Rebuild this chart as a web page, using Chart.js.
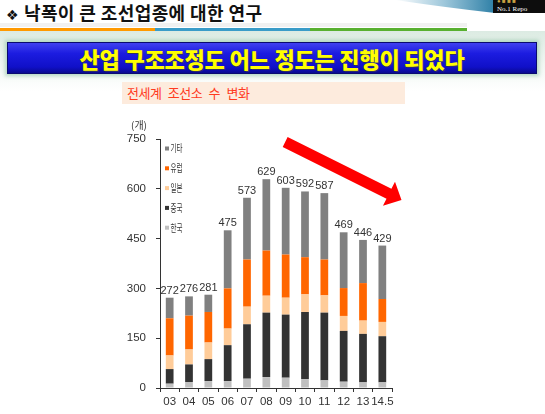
<!DOCTYPE html>
<html>
<head>
<meta charset="utf-8">
<script src="https://cdn.jsdelivr.net/npm/chart.js@4"></script>
<style>
  html, body { margin: 0; padding: 0; background: #fff; }
  body { width: 545px; height: 414px; position: relative; overflow: hidden;
         font-family: "Noto Sans CJK KR", "Noto Sans", sans-serif; }
  .abs { position: absolute; }
  #topTitle { left: 6px; top: -1px; font-size: 18px; font-weight: 700; color: #111; white-space: nowrap; letter-spacing: 0.4px; }
  #topTitle .mark { font-family: "DejaVu Sans"; font-size: 14px; margin-right: 5px; }
  #glow { left: 0; top: 31px; width: 545px; height: 60px;
          background: linear-gradient(#dcebe3, #f3f8f5 60%, #fff); }
  #banner { left: 7px; top: 42px; width: 530px; height: 32px;
            background: linear-gradient(#4040f0, #1c1ce0 35%, #1010c8 80%, #0a0a90);
            box-shadow: 0 0 4px 2px rgba(150, 200, 170, 0.7); border: 1px solid #0a0a70; box-sizing: border-box;
            color: #ffff00; font-size: 22px; font-weight: 900; text-align: center; line-height: 30px;
            text-shadow: 1px 1px 0 #303060; letter-spacing: -0.2px; }
  #subTitle { left: 122px; top: 82px; width: 283px; height: 22px; background: #fdebdd;
              color: #ff3b1f; font-size: 13px; line-height: 22px; padding-left: 5px; box-sizing: border-box;
              letter-spacing: -0.5px; word-spacing: 4px; }
  #chartCanvas { left: 0; top: 0; }
</style>
</head>
<body>
<svg class="abs" style="left:0;top:0" width="545" height="40">
  <defs>
    <linearGradient id="swoosh" x1="0" x2="1" y1="0" y2="0">
      <stop offset="0" stop-color="#ffffff"/>
      <stop offset="0.5" stop-color="#9cc6da"/>
      <stop offset="1" stop-color="#2d7fa6"/>
    </linearGradient>
  </defs>
  <rect x="0" y="0" width="545" height="27" fill="#fff"/>
  <rect x="0" y="23" width="467" height="4" fill="#f1f1f1"/>
  <path d="M395 0 L495 0 L495 13 Q450 8 395 0 Z" fill="url(#swoosh)"/>
  <rect x="493" y="0" width="52" height="13" fill="#0d0d0d"/>
  <text x="497" y="3" font-family="Liberation Serif" font-size="6" fill="#c8a040">● ■ ■ ■</text>
  <text x="497" y="11" font-family="Liberation Serif" font-size="7" fill="#fff">No.1 Repo</text>
  <rect x="0" y="28" width="155" height="3" fill="#ff9900"/>
  <rect x="155" y="28" width="155" height="3" fill="#3a9cc8"/>
  <rect x="310" y="28" width="157" height="3" fill="#58b030"/>
</svg>
<div id="glow" class="abs"></div>
<div id="topTitle" class="abs"><span class="mark">❖</span>낙폭이 큰 조선업종에 대한 연구</div>
<div id="banner" class="abs">산업 구조조정도 어느 정도는 진행이 되었다</div>
<div id="subTitle" class="abs">전세계 조선소 수 변화</div>
<canvas id="chartCanvas" class="abs" width="545" height="414" style="width:545px;height:414px"></canvas>
<svg class="abs" style="left:0;top:0" width="545" height="414">
  <g transform="translate(401.5,200) rotate(26.5)">
    <polygon points="-130,-5.5 -14,-5.5 -14,-13.5 0,0 -14,13.5 -14,5.5 -130,5.5" fill="#ff0000"/>
  </g>
</svg>
<script>
// 연도 (x축)
const years = ['03', '04', '05', '06', '07', '08', '09', '10', '11', '12', '13', '14.5'];

// 국가별 조선소 수 (아래에서 위로 쌓임)
const korea  = [13, 18, 21, 21, 28, 33, 31, 27, 23, 19, 17, 17];
const china  = [44, 53, 66, 108, 164, 194, 190, 202, 204, 153, 146, 139];
const japan  = [41, 45, 50, 50, 53, 51, 51, 53, 52, 45, 40, 43];
const europe = [112, 102, 92, 121, 142, 136, 130, 112, 108, 84, 113, 69];
const others = [62, 58, 52, 175, 186, 215, 201, 198, 200, 168, 130, 161];

// y축 눈금
const yTicks = [0, 150, 300, 450, 600, 750];

const seriesNames  = ['한국', '중국', '일본', '유럽', '기타'];
const seriesColors = ['#c0c0c0', '#333333', '#ffcc99', '#ff6600', '#808080'];
const seriesData   = [korea, china, japan, europe, others];

const AXIS_COLOR = '#333333';
const TEXT_COLOR = '#333333';

// 막대 위 합계 표시
const totalLabels = {
    id: 'totalLabels',
    afterDatasetsDraw(chart) {
        const ctx = chart.ctx;
        const topMeta = chart.getDatasetMeta(chart.data.datasets.length - 1);
        ctx.save();
        ctx.font = '11px "Liberation Sans", Arial, sans-serif';
        ctx.fillStyle = TEXT_COLOR;
        ctx.textAlign = 'center';
        ctx.textBaseline = 'alphabetic';
        years.forEach((y, i) => {
            const total = seriesData.reduce((s, arr) => s + arr[i], 0);
            const bar = topMeta.data[i];
            ctx.fillText(String(total), bar.x, bar.y - 4);
        });
        ctx.restore();
    }
};

// 차트 안쪽 왼쪽 위 범례 (역순) + 단위
const innerLegend = {
    id: 'innerLegend',
    afterDraw(chart) {
        const ctx = chart.ctx;
        const sets = chart.data.datasets.slice().reverse();
        ctx.save();
        sets.forEach((ds, k) => {
            const cy = 148.5 + k * 19.8;
            ctx.fillStyle = ds.backgroundColor;
            ctx.fillRect(165, cy - 2, 4, 4);
            ctx.save();
            ctx.translate(170.5, cy);
            ctx.scale(0.62, 1);
            ctx.font = '10.5px "Noto Sans CJK KR", sans-serif';
            ctx.fillStyle = TEXT_COLOR;
            ctx.textBaseline = 'middle';
            ctx.fillText(ds.label, 0, 0);
            ctx.restore();
        });
        ctx.font = '10px "Noto Sans CJK KR", sans-serif';
        ctx.fillStyle = TEXT_COLOR;
        ctx.textAlign = 'center';
        ctx.textBaseline = 'middle';
        ctx.fillText('(개)', 139, 125.5);
        ctx.restore();
    }
};

const canvas = document.getElementById('chartCanvas');
if (canvas) {
    new Chart(canvas.getContext('2d'), {
        type: 'bar',
        data: {
            labels: years,
            datasets: seriesNames.map((name, i) => ({
                label: name,
                data: seriesData[i],
                backgroundColor: seriesColors[i],
                borderWidth: 0,
                barPercentage: 0.4,
                categoryPercentage: 1.0
            }))
        },
        options: {
            responsive: false,
            animation: false,
            layout: { padding: { left: 0, top: 139, right: 153, bottom: 0 } },
            plugins: {
                legend: { display: false },
                tooltip: { enabled: false }
            },
            scales: {
                x: {
                    stacked: true,
                    afterFit: (scale) => { scale.height = 26; },
                    grid: { display: true, drawOnChartArea: false, drawTicks: true, tickLength: 4, color: AXIS_COLOR, offset: true },
                    border: { display: true, color: AXIS_COLOR, width: 1 },
                    ticks: { color: TEXT_COLOR, padding: 3, maxRotation: 0, autoSkip: false,
                             font: { family: '"Liberation Sans", Arial, sans-serif', size: 11.5 } }
                },
                y: {
                    stacked: true,
                    min: 0,
                    max: yTicks[yTicks.length - 1],
                    afterFit: (scale) => { scale.width = 160; },
                    afterBuildTicks: (scale) => { scale.ticks = yTicks.map(v => ({ value: v })); },
                    grid: { display: true, drawOnChartArea: false, drawTicks: true, tickLength: 4, color: AXIS_COLOR },
                    border: { display: true, color: AXIS_COLOR, width: 1 },
                    ticks: { color: TEXT_COLOR, padding: 10,
                             font: { family: '"Liberation Sans", Arial, sans-serif', size: 11.5 } }
                }
            }
        },
        plugins: [totalLabels, innerLegend]
    });
}
</script>
</body>
</html>
